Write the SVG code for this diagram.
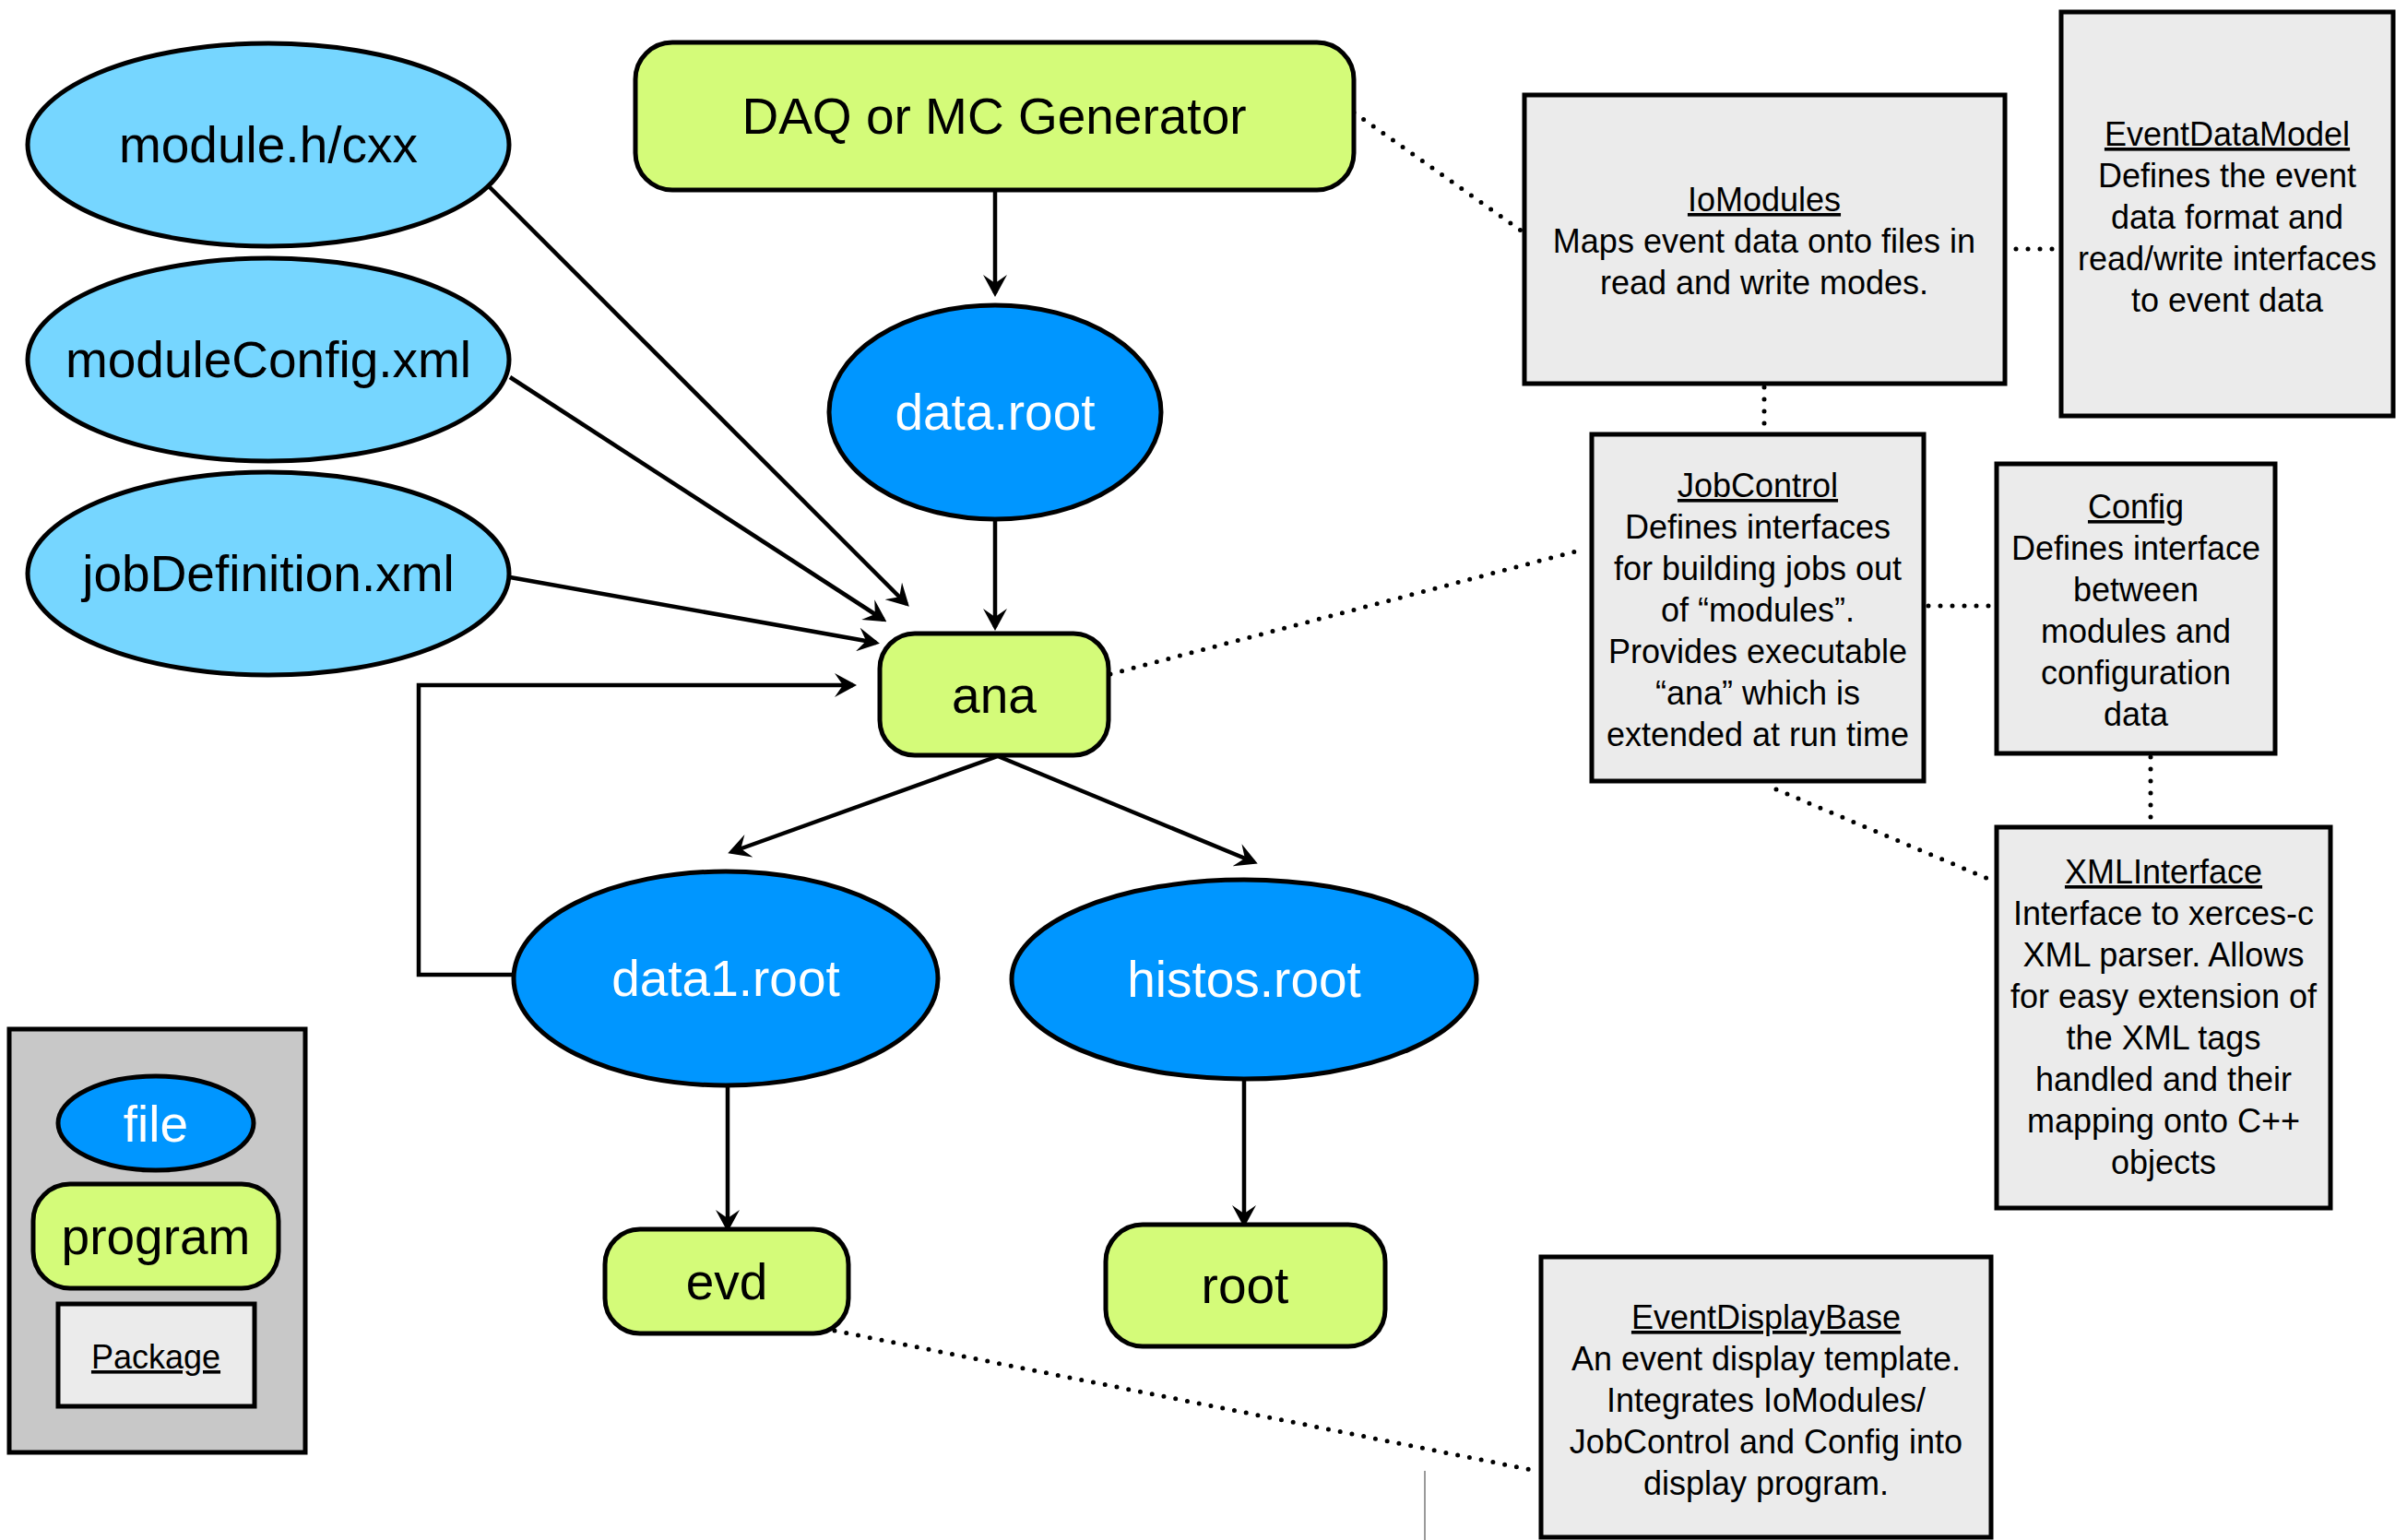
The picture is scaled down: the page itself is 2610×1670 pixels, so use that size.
<svg xmlns="http://www.w3.org/2000/svg" width="2610" height="1670" viewBox="0 0 2610 1670">
<style>
.fl{fill:#76D6FF;stroke:#000;stroke-width:5}
.fb{fill:#0096FF;stroke:#000;stroke-width:5}
.pg{fill:#D4FB79;stroke:#000;stroke-width:5}
.pk{fill:#EBEBEB;stroke:#000;stroke-width:5}
.lg{fill:#C8C8C8;stroke:#000;stroke-width:5}
text{font-family:"Liberation Sans",Arial,sans-serif;text-anchor:middle;fill:#000}
.big{font-size:55px}
.wh{fill:#fff}
.d{font-size:36px}
.u{text-decoration:underline}
.ar{stroke:#000;stroke-width:4.5;fill:none;marker-end:url(#ah)}
.dt{stroke:#000;stroke-width:5;stroke-dasharray:0 13;stroke-linecap:round;fill:none}
</style>
<defs>
<marker id="ah" viewBox="0 0 24 26" refX="20" refY="13" markerWidth="24" markerHeight="26" markerUnits="userSpaceOnUse" orient="auto">
<path d="M0,0 L24,13 L0,26 L9,13 Z" fill="#000"/>
</marker>
</defs>
<rect width="2610" height="1670" fill="#fff"/>
<g id="connectors">
<path class="ar" d="M531,203 L983,655"/>
<path class="ar" d="M553,409 L958,672"/>
<path class="ar" d="M553,626 L950,697"/>
<path class="ar" d="M1079,206 L1079,318"/>
<path class="ar" d="M1079,564 L1079,680"/>
<path class="ar" d="M558,1057 L454,1057 L454,743 L925,743"/>
<path class="ar" d="M1082,820 L793,924"/>
<path class="ar" d="M1082,820 L1360,935"/>
<path class="ar" d="M789,1177 L789,1332"/>
<path class="ar" d="M1349,1170 L1349,1327"/>
<path class="dt" d="M1468,122 L1652,252"/>
<path class="dt" d="M2186,270 L2228,270"/>
<path class="dt" d="M1913,420 L1913,468"/>
<path class="dt" d="M1204,731 L1716,596"/>
<path class="dt" d="M2091,657 L2162,657"/>
<path class="dt" d="M2332,821 L2332,895"/>
<path class="dt" d="M1926,856 L2163,956"/>
<path class="dt" d="M905,1443 L1666,1595"/>
<path d="M1545,1595 L1545,1670" stroke="#9a9a9a" stroke-width="2" fill="none"/>
</g>
<g id="module_h"><ellipse class="fl" cx="291" cy="157" rx="261" ry="110"/><text class="big" x="291" y="176">module.h/cxx</text></g>
<g id="moduleConfig"><ellipse class="fl" cx="291" cy="390" rx="261" ry="110"/><text class="big" x="291" y="409">moduleConfig.xml</text></g>
<g id="jobDefinition"><ellipse class="fl" cx="291" cy="622" rx="261" ry="110"/><text class="big" x="291" y="641">jobDefinition.xml</text></g>
<g id="daq"><rect class="pg" x="689" y="46" width="779" height="160" rx="40"/><text class="big" x="1078" y="145">DAQ or MC Generator</text></g>
<g id="data_root"><ellipse class="fb" cx="1079" cy="447" rx="180" ry="116"/><text class="big wh" x="1079" y="466">data.root</text></g>
<g id="ana"><rect class="pg" x="954" y="687" width="248" height="132" rx="38"/><text class="big" x="1078" y="773">ana</text></g>
<g id="data1_root"><ellipse class="fb" cx="787" cy="1061" rx="230" ry="116"/><text class="big wh" x="787" y="1080">data1.root</text></g>
<g id="histos_root"><ellipse class="fb" cx="1349" cy="1062" rx="252" ry="108"/><text class="big wh" x="1349" y="1081">histos.root</text></g>
<g id="evd"><rect class="pg" x="656" y="1333" width="264" height="113" rx="38"/><text class="big" x="788" y="1409">evd</text></g>
<g id="root"><rect class="pg" x="1199" y="1328" width="303" height="132" rx="40"/><text class="big" x="1350" y="1413">root</text></g>
<g id="legend">
<rect class="lg" x="10" y="1116" width="321" height="459"/>
<ellipse class="fb" cx="169" cy="1218" rx="106" ry="51"/><text class="big wh" x="169" y="1238">file</text>
<rect class="pg" x="36" y="1284" width="266" height="113" rx="40"/><text class="big" x="169" y="1360">program</text>
<rect class="pk" x="63" y="1414" width="213" height="111"/><text class="d u" x="169" y="1484">Package</text>
</g>
<g id="IoModules"><rect class="pk" x="1653" y="103" width="521" height="313"/>
<text class="d" x="1913"><tspan class="u" x="1913" y="229">IoModules</tspan><tspan x="1913" y="274">Maps event data onto files in</tspan><tspan x="1913" y="319">read and write modes.</tspan></text></g>
<g id="EventDataModel"><rect class="pk" x="2235" y="13" width="360" height="438"/>
<text class="d" x="2415"><tspan class="u" x="2415" y="158">EventDataModel</tspan><tspan x="2415" y="203">Defines the event</tspan><tspan x="2415" y="248">data format and</tspan><tspan x="2415" y="293">read/write interfaces</tspan><tspan x="2415" y="338">to event data</tspan></text></g>
<g id="JobControl"><rect class="pk" x="1726" y="471" width="360" height="376"/>
<text class="d" x="1906"><tspan class="u" x="1906" y="539">JobControl</tspan><tspan x="1906" y="584">Defines interfaces</tspan><tspan x="1906" y="629">for building jobs out</tspan><tspan x="1906" y="674">of “modules”.</tspan><tspan x="1906" y="719">Provides executable</tspan><tspan x="1906" y="764">“ana” which is</tspan><tspan x="1906" y="809">extended at run time</tspan></text></g>
<g id="Config"><rect class="pk" x="2165" y="503" width="302" height="314"/>
<text class="d" x="2316"><tspan class="u" x="2316" y="562">Config</tspan><tspan x="2316" y="607">Defines interface</tspan><tspan x="2316" y="652">between</tspan><tspan x="2316" y="697">modules and</tspan><tspan x="2316" y="742">configuration</tspan><tspan x="2316" y="787">data</tspan></text></g>
<g id="XMLInterface"><rect class="pk" x="2165" y="897" width="362" height="413"/>
<text class="d" x="2346"><tspan class="u" x="2346" y="958">XMLInterface</tspan><tspan x="2346" y="1003">Interface to xerces-c</tspan><tspan x="2346" y="1048">XML parser. Allows</tspan><tspan x="2346" y="1093">for easy extension of</tspan><tspan x="2346" y="1138">the XML tags</tspan><tspan x="2346" y="1183">handled and their</tspan><tspan x="2346" y="1228">mapping onto C++</tspan><tspan x="2346" y="1273">objects</tspan></text></g>
<g id="EventDisplayBase"><rect class="pk" x="1671" y="1363" width="488" height="304"/>
<text class="d" x="1915"><tspan class="u" x="1915" y="1441">EventDisplayBase</tspan><tspan x="1915" y="1486">An event display template.</tspan><tspan x="1915" y="1531">Integrates IoModules/</tspan><tspan x="1915" y="1576">JobControl and Config into</tspan><tspan x="1915" y="1621">display program.</tspan></text></g>
</svg>
